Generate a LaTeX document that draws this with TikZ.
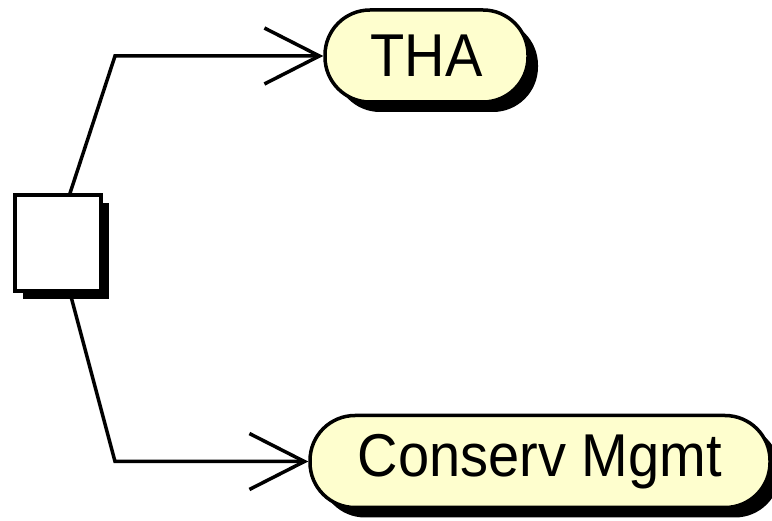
\documentclass[tikz,border=0pt]{standalone}
\usepackage{fontspec}
\usepackage{graphicx}
\setmainfont{Liberation Sans}
\usetikzlibrary{shadows,arrows.meta}
\definecolor{ucfill}{HTML}{FEFECE}
\newcommand{\tallt}[1]{\scalebox{1}[1.08]{#1}}
\begin{document}
\begin{tikzpicture}[x=1pt,y=-1pt,
  usecase/.style={draw, line width=3.5pt, fill=ucfill, rounded corners=45pt,
    minimum height=92pt, inner sep=0pt, font=\fontsize{56}{60}\selectfont,
    drop shadow={shadow xshift=10pt, shadow yshift=-10pt, fill=black, opacity=1}},
  choice/.style={draw, line width=3.5pt, fill=white, minimum width=86pt, minimum height=96pt,
    inner sep=0pt,
    drop shadow={shadow xshift=8pt, shadow yshift=-8pt, fill=black, opacity=1}},
  conn/.style={line width=3.5pt, line join=miter,
    -{Straight Barb[length=55pt, width=56pt, line width=3.5pt]}}]
\useasboundingbox (0,0) rectangle (772,521);
\node[choice] (b) at (58,243) {};
\node[usecase, minimum width=203pt] (tha) at (426.5,56) {\tallt{THA}};
\node[usecase, minimum width=460pt] (cm) at (540,461.5) {\tallt{Conserv Mgmt}};
\coordinate (k1) at (115,56);
\coordinate (k2) at (115,461.5);
\draw[conn] ([xshift=12pt]b.north) -- (k1) -- (tha.west);
\draw[conn] ([xshift=12pt]b.south) -- (k2) -- (cm.west);
\end{tikzpicture}
\end{document}
